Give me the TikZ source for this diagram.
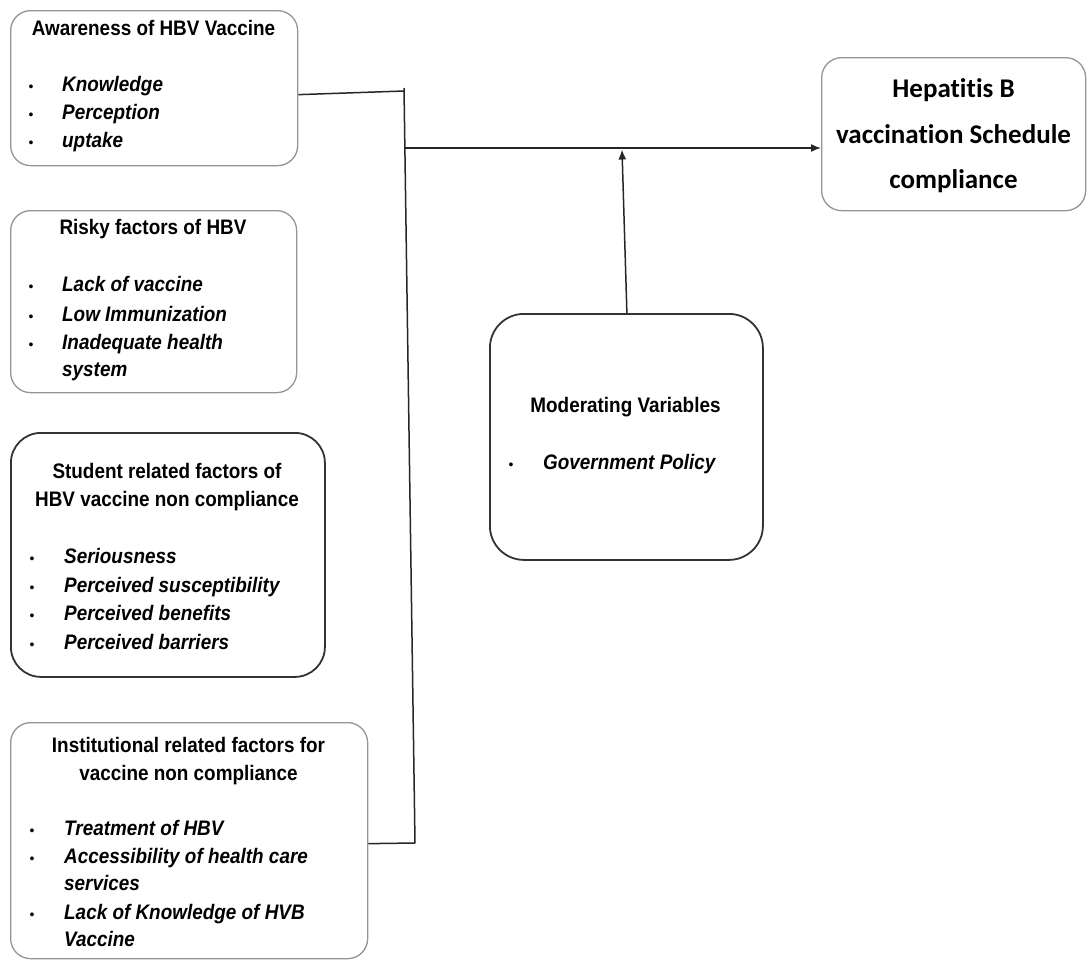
\documentclass[tikz,border=0pt]{standalone}
\usepackage{fontspec}
\setmainfont{Liberation Sans}
\newfontfamily\narr[FakeStretch=0.9]{Liberation Sans}
\newfontfamily\calib[Ligatures=NoCommon]{Carlito}
\usetikzlibrary{arrows.meta,calc}
\begin{document}
\begin{tikzpicture}[x=1pt,y=-1pt,
 lbox/.style={draw=black!42, line width=1.3pt, rounded corners=20pt, anchor=north west, inner sep=0pt, fill=white},
 dbox/.style={draw=black!80, line width=1.8pt, rounded corners=30pt, anchor=north west, inner sep=0pt, fill=white},
 ttl/.style={font=\narr\bfseries\fontsize{21}{27}\selectfont, anchor=base, inner sep=0pt},
 itm/.style={font=\narr\bfseries\itshape\fontsize{21}{27}\selectfont, anchor=base west, inner sep=0pt},
 bul/.style={font=\fontsize{14}{14}\selectfont, anchor=base, inner sep=0pt},
 big/.style={font=\calib\bfseries\fontsize{27}{46}\selectfont, anchor=base, inner sep=0pt},
 conn/.style={draw=black!85, line width=1.5pt},
 arr/.style={conn, -{Latex[length=10pt,width=8pt]}}]
\useasboundingbox (0,0) rectangle (1087,964);

% boxes
\node[lbox, minimum width=287pt, minimum height=155pt] (b1) at (10,10) {};
\node[lbox, minimum width=286pt, minimum height=182pt] (b2) at (10,210) {};
\node[dbox, minimum width=314pt, minimum height=244pt] (b3) at (10,432) {};
\node[lbox, minimum width=357pt, minimum height=236pt] (b4) at (10,722) {};
\node[lbox, minimum width=264pt, minimum height=153pt] (hep) at (821,57) {};
\node[dbox, rounded corners=34pt, minimum width=273pt, minimum height=246pt] (mod) at (489,313) {};

% box 1
\node[ttl] (t1) at (153.5,35) {Awareness of HBV Vaccine};
\node[bul] (p1a) at (31,91) {•}; \node[itm] (i1a) at (62,91) {Knowledge};
\node[bul] (p1b) at (31,119) {•}; \node[itm] (i1b) at (62,119) {Perception};
\node[bul] (p1c) at (31,147) {•}; \node[itm] (i1c) at (62,147) {uptake};

% box 2
\node[ttl] (t2) at (153,234) {Risky factors of HBV};
\node[bul] (p2a) at (31,291) {•}; \node[itm] (i2a) at (62,291) {Lack of vaccine};
\node[bul] (p2b) at (31,321) {•}; \node[itm] (i2b) at (62,321) {Low Immunization};
\node[bul] (p2c) at (31,349) {•}; \node[itm] (i2c) at (62,349) {Inadequate health};
\node[itm] (i2d) at (62,376) {system};

% box 3
\node[ttl] (t3a) at (167,478) {Student related factors of};
\node[ttl] (t3b) at (167,506) {HBV vaccine non compliance};
\node[bul] (p3a) at (32,563) {•}; \node[itm] (i3a) at (64,563) {Seriousness};
\node[bul] (p3b) at (32,592) {•}; \node[itm] (i3b) at (64,592) {Perceived susceptibility};
\node[bul] (p3c) at (32,620) {•}; \node[itm] (i3c) at (64,620) {Perceived benefits};
\node[bul] (p3d) at (32,649) {•}; \node[itm] (i3d) at (64,649) {Perceived barriers};

% box 4
\node[ttl] (t4a) at (188.5,752) {Institutional related factors for};
\node[ttl] (t4b) at (188.5,780) {vaccine non compliance};
\node[bul] (p4a) at (32,835) {•}; \node[itm] (i4a) at (64,835) {Treatment of HBV};
\node[bul] (p4b) at (32,863) {•}; \node[itm] (i4b) at (64,863) {Accessibility of health care};
\node[itm] (i4c) at (64,890) {services};
\node[bul] (p4d) at (32,919) {•}; \node[itm] (i4d) at (64,919) {Lack of Knowledge of HVB};
\node[itm] (i4e) at (64,946) {Vaccine};

% outcome box
\node[big] (h1) at (953.5,97) {Hepatitis B};
\node[big] (h2) at (953.5,143) {vaccination Schedule};
\node[big] (h3) at (953.5,188) {compliance};

% moderating box
\node[ttl] (tm) at (625.5,412) {Moderating Variables};
\node[bul] (pm) at (511,469) {•}; \node[itm] (im) at (543,469) {Government Policy};

% connectors
\coordinate (jtop) at (404,88);
\coordinate (jin) at (404,91);
\coordinate (jmid) at (405,148);
\coordinate (jbot) at (415,843);
\coordinate (mtip) at (622,149.5);
\draw[conn] ([yshift=-6.5pt]b1.east) -- (jin);
\draw[conn] (jtop) -- (jbot);
\draw[conn] ([yshift=-3pt]b4.east) -- (jbot);
\draw[arr] (jmid) -- (jmid -| hep.west);
\draw[arr] ([xshift=0.5pt]mod.north) -- (mtip);
\end{tikzpicture}
\end{document}
